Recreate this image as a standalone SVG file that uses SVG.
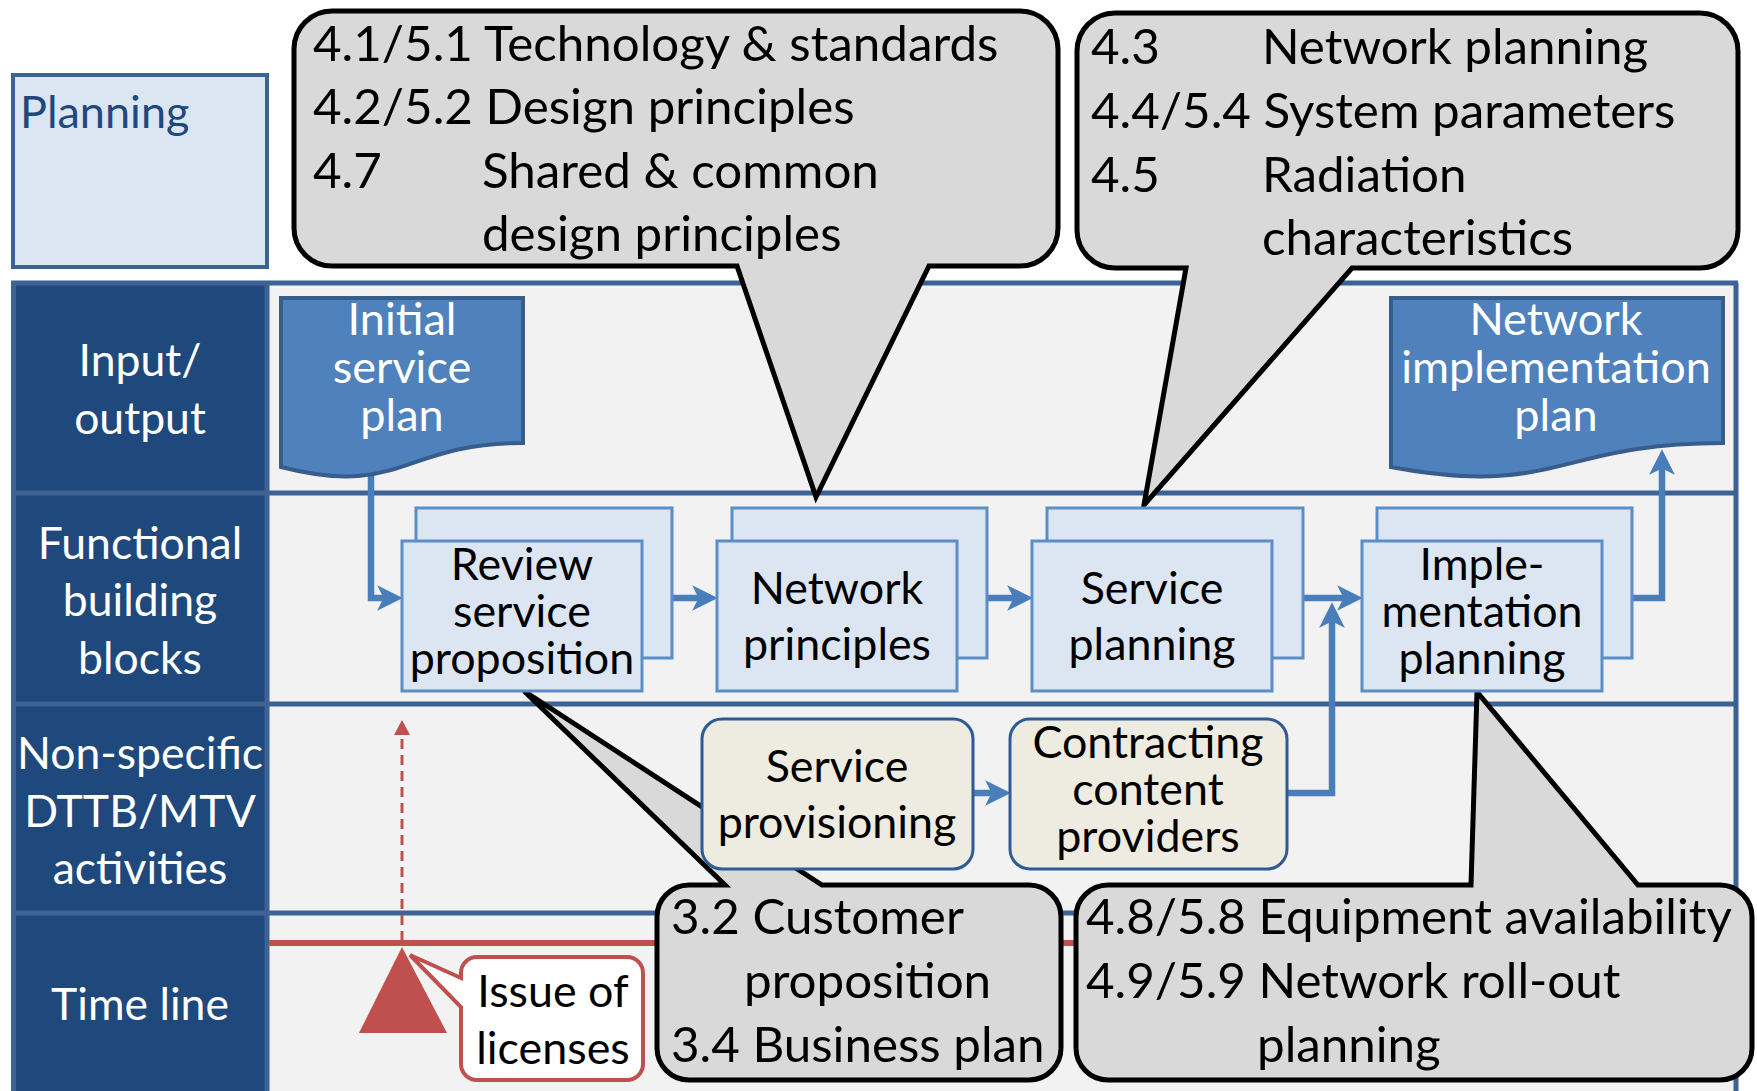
<svg xmlns="http://www.w3.org/2000/svg" width="1757" height="1091" viewBox="0 0 1757 1091">
<style>
text{font-family:Lato,"Open Sans","Liberation Sans",sans-serif}
.lane{font-size:44.5px;fill:#fff;text-anchor:middle}
.bt{font-size:44.8px;fill:#000;text-anchor:middle}
.dt{font-size:45px;fill:#fff;text-anchor:middle}
.co{font-size:49.3px;fill:#000}
.grid{stroke:#3c6393;stroke-width:5;fill:none}
.callout{fill:#d9d9d9;stroke:#000;stroke-width:5;stroke-linejoin:miter}
.doc{fill:#4f81bd;stroke:#385d8a;stroke-width:4}
.fb{fill:#dce6f2;stroke:#5b8dc8;stroke-width:3}
.ns{fill:#eeece1;stroke:#2f5b94;stroke-width:3}
.conn{fill:none;stroke:#4a7ebb;stroke-width:6.5}
</style>
<defs>
<marker id="arr" markerUnits="userSpaceOnUse" markerWidth="30" markerHeight="30" viewBox="-26 -14 28 28" refX="-12" refY="0" orient="auto">
<path d="M0,0 L-24,-12 L-18,0 L-24,12 Z" fill="#4a7ebb"/>
</marker>
<marker id="arrRed" markerUnits="userSpaceOnUse" markerWidth="20" markerHeight="20" viewBox="-17 -10 19 20" refX="-10" refY="0" orient="auto">
<path d="M0,0 L-15,-8 L-15,8 Z" fill="#c0504d"/>
</marker>
</defs>

<!-- Frame / swimlanes -->
<g id="frame">
<rect x="267" y="283" width="1471" height="812" fill="#f2f2f2"/>
<rect x="11" y="283" width="256" height="812" fill="#1f497d"/>
<path class="grid" d="M11,283 H1738 M11,493 H1738 M11,704 H1738 M11,913 H1738 M13.5,283 V1095 M267,283 V1095 M1736,283 V1095"/>
</g>

<g id="planning">
<rect x="13" y="75" width="254" height="192" fill="#dce6f2" stroke="#3c6393" stroke-width="4"/>
<text x="20" y="128" style="font-size:45px;fill:#1f497d">Planning</text>
</g>

<g id="lane-labels">
<text class="lane" x="140" y="376">Input/</text>
<text class="lane" x="140" y="434">output</text>
<text class="lane" x="140" y="559">Functional</text>
<text class="lane" x="140" y="616">building</text>
<text class="lane" x="140" y="674">blocks</text>
<text class="lane" x="140" y="769">Non-specific</text>
<text class="lane" x="140" y="827">DTTB/MTV</text>
<text class="lane" x="140" y="884">activities</text>
<text class="lane" x="140" y="1020">Time line</text>
</g>

<!-- Time line -->
<g id="timeline">
<line x1="269" y1="943" x2="1736" y2="943" stroke="#c0504d" stroke-width="6"/>
</g>

<!-- Callouts -->
<g id="callout-design">
<path class="callout" d="M332,11 H1020 A38,38 0 0 1 1058,49 V228 A38,38 0 0 1 1020,266 H929 L816,497 L737,266 H332 A38,38 0 0 1 294,228 V49 A38,38 0 0 1 332,11 Z"/>
<text class="co" x="313" y="61">4.1/5.1 Technology &amp; standards</text>
<text class="co" x="313" y="124">4.2/5.2 Design principles</text>
<text class="co" x="313" y="188">4.7</text>
<text class="co" x="482" y="188">Shared &amp; common</text>
<text class="co" x="482" y="251">design principles</text>
</g>

<g id="callout-network">
<path class="callout" d="M1115,13 H1700 A38,38 0 0 1 1738,51 V230 A38,38 0 0 1 1700,268 H1352 L1144,505 L1186,268 H1115 A38,38 0 0 1 1077,230 V51 A38,38 0 0 1 1115,13 Z"/>
<text class="co" x="1091" y="64">4.3</text>
<text class="co" x="1262" y="64">Network planning</text>
<text class="co" x="1091" y="128">4.4/5.4 System parameters</text>
<text class="co" x="1091" y="192">4.5</text>
<text class="co" x="1262" y="192">Radiation</text>
<text class="co" x="1262" y="255">characteristics</text>
</g>

<g id="callout-business">
<path class="callout" d="M689,885 H725 L524,691 L822,885 H1029 A32,32 0 0 1 1061,917 V1048 A32,32 0 0 1 1029,1080 H689 A32,32 0 0 1 657,1048 V917 A32,32 0 0 1 689,885 Z"/>
<text class="co" x="671" y="934">3.2 Customer</text>
<text class="co" x="744" y="998">proposition</text>
<text class="co" x="671" y="1062">3.4 Business plan</text>
</g>

<g id="callout-rollout">
<path class="callout" d="M1108,885 H1471 L1477,692 L1638,885 H1720 A32,32 0 0 1 1752,917 V1048 A32,32 0 0 1 1720,1080 H1108 A32,32 0 0 1 1076,1048 V917 A32,32 0 0 1 1108,885 Z"/>
<text class="co" x="1086" y="934">4.8/5.8 Equipment availability</text>
<text class="co" x="1086" y="998">4.9/5.9 Network roll-out</text>
<text class="co" x="1257" y="1062">planning</text>
</g>

<!-- Connectors -->
<g id="connectors">
<path class="conn" d="M371,474 V598 H390" marker-end="url(#arr)"/>
<path class="conn" d="M672,598 H705" marker-end="url(#arr)"/>
<path class="conn" d="M987,598 H1020" marker-end="url(#arr)"/>
<path class="conn" d="M1303,598 H1350" marker-end="url(#arr)"/>
<path class="conn" d="M973,793 H998" marker-end="url(#arr)"/>
<path class="conn" d="M1287,793 H1332 V615" marker-end="url(#arr)"/>
<path class="conn" d="M1632,598 H1662 V462" marker-end="url(#arr)"/>
<path d="M402,941 V730" fill="none" stroke="#c0504d" stroke-width="3" stroke-dasharray="10,6" marker-end="url(#arrRed)"/>
</g>

<!-- Input / output documents -->
<g id="initial-service-plan">
<path class="doc" d="M281,298 H523 V443 C402,443 402,498 281,467 Z"/>
<text class="dt" x="402" y="335">Initial</text>
<text class="dt" x="402" y="383">service</text>
<text class="dt" x="402" y="431">plan</text>
</g>

<g id="network-implementation-plan">
<path class="doc" d="M1391,298 H1723 V443 C1557,443 1557,498 1391,467 Z"/>
<text class="dt" x="1556" y="335">Network</text>
<text class="dt" x="1556" y="383">implementation</text>
<text class="dt" x="1556" y="431">plan</text>
</g>

<!-- Functional building blocks -->
<g id="review-service-proposition">
<rect class="fb" x="416" y="508" width="256" height="150"/>
<rect class="fb" x="402" y="541" width="240" height="150"/>
<text class="bt" x="522" y="580">Review</text>
<text class="bt" x="522" y="627">service</text>
<text class="bt" x="522" y="674">proposition</text>
</g>

<g id="network-principles">
<rect class="fb" x="732" y="508" width="255" height="150"/>
<rect class="fb" x="717" y="541" width="240" height="150"/>
<text class="bt" x="837" y="604">Network</text>
<text class="bt" x="837" y="660">principles</text>
</g>

<g id="service-planning">
<rect class="fb" x="1047" y="508" width="256" height="150"/>
<rect class="fb" x="1032" y="541" width="240" height="150"/>
<text class="bt" x="1152" y="604">Service</text>
<text class="bt" x="1152" y="660">planning</text>
</g>

<g id="implementation-planning">
<rect class="fb" x="1377" y="508" width="255" height="150"/>
<rect class="fb" x="1362" y="541" width="240" height="150"/>
<text class="bt" x="1482" y="580">Imple-</text>
<text class="bt" x="1482" y="627">mentation</text>
<text class="bt" x="1482" y="674">planning</text>
</g>

<!-- Non-specific activities -->
<g id="service-provisioning">
<rect class="ns" x="702" y="719" width="271" height="150" rx="20"/>
<text class="bt" x="837" y="782">Service</text>
<text class="bt" x="837" y="838">provisioning</text>
</g>

<g id="contracting-content-providers">
<rect class="ns" x="1010" y="719" width="277" height="150" rx="20"/>
<text class="bt" x="1148" y="758">Contracting</text>
<text class="bt" x="1148" y="805">content</text>
<text class="bt" x="1148" y="852">providers</text>
</g>

<!-- Milestone -->
<g id="milestone">
<polygon points="402,947 447,1033 359,1033" fill="#c0504d"/>
</g>

<g id="issue-of-licenses">
<path d="M477,957 H627 A16,16 0 0 1 643,973 V1064 A16,16 0 0 1 627,1080 H477 A16,16 0 0 1 461,1064 V1007 L410,955 L461,978 V973 A16,16 0 0 1 477,957 Z" fill="#fff" stroke="#c0504d" stroke-width="4"/>
<text class="bt" x="553" y="1007">Issue of</text>
<text class="bt" x="553" y="1064">licenses</text>
</g>
</svg>
